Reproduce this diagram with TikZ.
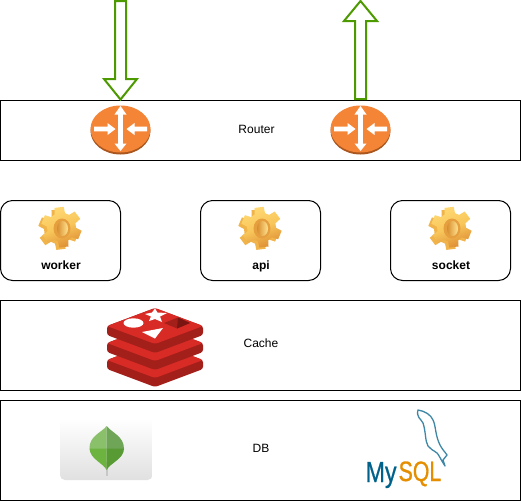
\documentclass[tikz,border=0pt]{standalone}
\usepackage{fontspec}
\setmainfont{Liberation Sans}
\newfontfamily\mysqlfont[FakeBold=0.9]{Liberation Sans}
\definecolor{grn}{HTML}{4D9900}
\definecolor{rtr}{HTML}{F58536}
\definecolor{rtrd}{HTML}{A9561F}
\definecolor{redA}{HTML}{D92B26}
\definecolor{redB}{HTML}{A31F1A}
\definecolor{redC}{HTML}{7A1512}
\definecolor{myblue}{HTML}{00628B}
\definecolor{myorange}{HTML}{E48E00}
\definecolor{dolph}{HTML}{3F87A6}
\definecolor{gearA}{HTML}{F0B44A}
\definecolor{gearB}{HTML}{FFD873}
\definecolor{gearC}{HTML}{F8C65A}
\definecolor{gearD}{HTML}{DE8E34}
\definecolor{gearE}{HTML}{D98E2E}
\definecolor{gearF}{HTML}{FFE391}
\tikzset{
  panel/.style={draw=black,line width=1pt,fill=white},
  svc/.style={panel,rounded corners=12pt},
  lab/.style={font=\fontsize{12}{14}\selectfont,text=black,inner sep=0pt,anchor=base},
  blab/.style={lab,font=\fontsize{12}{14}\selectfont\bfseries},
  bigarrow/.style={draw=grn,line width=2pt,fill=white,miter limit=10},
  whitearrow/.style={fill=white,draw=none},
  pics/gear/.style={code={
    \begin{scope}[shift={(-1.5,1.5)},rotate=-8]
      \fill[gearA] (2:20.5) foreach \t in {15,75,135,195,255,315}{ -- (\t-13:20.5) -- (\t+13:20.5) -- (\t+21:14.5) -- (\t+39:14.5) } -- cycle;
    \end{scope}
    \begin{scope}[shift={(1.5,-0.8)},rotate=-8]
      \shade[left color=gearB,right color=gearD,middle color=gearC,shading angle=20]
        (2:20.5) foreach \t in {15,75,135,195,255,315}{ -- (\t-13:20.5) -- (\t+13:20.5) -- (\t+21:14.5) -- (\t+39:14.5) } -- cycle;
    \end{scope}
    \fill[gearD!70!gearC] (2,0.5) ellipse (8.5 and 10);
    \shade[left color=gearE,right color=gearF] (2.5,0.5) ellipse (5.5 and 7.5);
  }},
  pics/router/.style={code={
    \fill[rtrd] (0,2) ellipse (30 and 23.5);
    \fill[rtr] (0,0) ellipse (30 and 23.5);
    \fill[whitearrow] (0,-23) -- (6,-14.5) -- (2.4,-14.5) -- (2.4,14.5) -- (6,14.5) -- (0,22) -- (-6,14.5) -- (-2.4,14.5) -- (-2.4,-14.5) -- (-6,-14.5) -- cycle;
    \fill[whitearrow] (-26.5,-2.3) -- (-13,-2.3) -- (-13,-6) -- (-5,0) -- (-13,6) -- (-13,2.3) -- (-26.5,2.3) -- cycle;
    \fill[whitearrow] (26.5,-2.3) -- (14,-2.3) -- (14,-6) -- (6,0) -- (14,6) -- (14,2.3) -- (26.5,2.3) -- cycle;
  }},
  pics/redislayer/.style={code={
    \fill[redB,rounded corners=2.5pt] (-48,0) -- (0,-18) -- (48,0) -- (48,9) -- (0,27) -- (-48,9) -- cycle;
    \fill[redA,rounded corners=2.5pt] (-48,0) -- (0,-18) -- (48,0) -- (0,18) -- cycle;
  }},
}
\begin{document}
\begin{tikzpicture}[x=1pt,y=-1pt]
\useasboundingbox (0,0) rectangle (521,501);
% router band
\draw[panel] (0.5,100.5) rectangle (520.5,160.5);
\node[lab] (routerlab) at (256.5,133) {Router};
\pic (rA) at (120.5,129) {router};
\pic (rB) at (360.5,129) {router};
% big arrows
\draw[bigarrow] (115,1) -- (126,1) -- (126,79) -- (137,79) -- (120.5,99.5) -- (104,79) -- (115,79) -- cycle;
\draw[bigarrow] (355,99) -- (366,99) -- (366,21) -- (377,21) -- (360.5,1) -- (344,21) -- (355,21) -- cycle;
% services
\draw[svc] (0.5,200.5) rectangle (120.5,280.5);
\draw[svc] (200.5,200.5) rectangle (320.5,280.5);
\draw[svc] (390.5,200.5) rectangle (510.5,280.5);
\pic (gA) at (60,228) {gear};
\pic (gB) at (260,228) {gear};
\pic (gC) at (450,228) {gear};
\node[blab] (worker) at (61,269) {worker};
\node[blab] (api) at (261,269) {api};
\node[blab] (socket) at (451,269) {socket};
% cache
\draw[panel] (0.5,300.5) rectangle (520.5,390.5);
\node[lab] (cache) at (261,347.5) {Cache};
\pic (l3) at (155,360) {redislayer};
\pic (l2) at (155,343) {redislayer};
\pic (l1) at (155,326) {redislayer};
\fill[white] (133.5,323) ellipse (10 and 4.7);
\fill[white] (142,332) -- (163,328) -- (155,338.5) -- cycle;
\fill[white] (155,308.5) -- (157.5,312.5) -- (167,313) -- (160,316.5) -- (162,322) -- (155,319) -- (149,321) -- (151,316.5) -- (145,314) -- (152,312.5) -- cycle;
\fill[redB] (164,323) -- (178,317.5) -- (190,323) -- (177,328.5) -- cycle;
\fill[redC] (178,317.5) -- (190,323) -- (177,328.5) -- cycle;
% db
\draw[panel] (0.5,400.5) rectangle (520.5,500.5);
\node[lab] (db) at (261,452) {DB};
\shade[top color=white,bottom color=black!12,rounded corners=5pt] (60,418) rectangle (152.5,480);
\fill[black!22] (105.6,462) rectangle (108,476);
\fill[color={rgb,255:red,139;green,192;blue,107}] (106.7,426) .. controls (101,433) and (89,436) .. (89.5,449) -- (106.7,449) -- cycle;
\fill[color={rgb,255:red,110;green,165;blue,87}] (106.7,426) .. controls (112,433) and (124,436) .. (124,449) -- (106.7,449) -- cycle;
\fill[color={rgb,255:red,108;green,179;blue,63}] (89.5,448.5) .. controls (90,459) and (103,463) .. (106.7,470) -- (106.7,448.5) -- cycle;
\fill[color={rgb,255:red,88;green,154;blue,51}] (124,448.5) .. controls (124,459) and (110,463) .. (106.7,470) -- (106.7,448.5) -- cycle;
% mysql
\draw[dolph,line width=1.3pt,line join=round] (418,410) .. controls (425,411) and (431,415) .. (433,420)
  .. controls (436,426) and (435,435) .. (440,445)
  .. controls (442,449) and (445,452) .. (447,455) -- (443,460) -- (445,466)
  .. controls (441,460) and (439,455) .. (437,453)
  .. controls (433,450) and (430,449) .. (428,446)
  .. controls (425,441) and (426,432) .. (423,423)
  .. controls (421,419) and (416,417) .. (418,410) -- cycle;
\node[inner sep=0pt,anchor=base west,text=myblue,font=\fontsize{29}{31}\selectfont\mysqlfont,xscale=0.8,transform shape] (my) at (365.5,482) {My};
\node[inner sep=0pt,anchor=base west,text=myorange,font=\fontsize{28}{30}\selectfont\mysqlfont,xscale=0.76,transform shape] (sql) at (398.5,481) {SQL};
\end{tikzpicture}
\end{document}
